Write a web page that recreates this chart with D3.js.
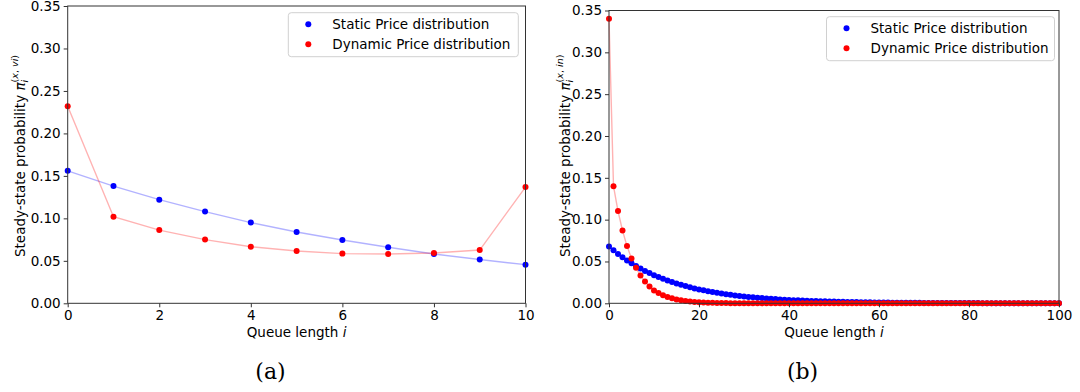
<!DOCTYPE html>
<html>
<head>
<meta charset="utf-8">
<script src="https://cdn.jsdelivr.net/npm/d3@7"></script>
<style>
  body { margin: 0; background: #fff; }
  svg text { font-family: "DejaVu Sans", sans-serif; fill: #000; }
</style>
</head>
<body>
<div id="chart"></div>
<script>
// (a) short queue, i = 0..10
const queueA = [0, 1, 2, 3, 4, 5, 6, 7, 8, 9, 10];
const staticA = [0.156, 0.138, 0.122, 0.108, 0.095, 0.084, 0.0745, 0.066, 0.058, 0.0515, 0.0455];
const dynamicA = [0.232, 0.102, 0.0862, 0.075, 0.0666, 0.0615, 0.0585, 0.058, 0.0592, 0.0627, 0.1368];

// (b) long queue, i = 0..100 (index = queue length)
const staticB = [
  0.0680, 0.06338, 0.05907, 0.05505, 0.05131, 0.04782, 0.04457, 0.04154, 0.03871, 0.03608,
  0.03363, 0.03134, 0.02921, 0.02722, 0.02537, 0.02365, 0.02204, 0.02054, 0.01914, 0.01784,
  0.01663, 0.01550, 0.01444, 0.01346, 0.01255, 0.01169, 0.01090, 0.01016, 0.00947, 0.00882,
  0.00822, 0.00766, 0.00714, 0.00666, 0.00620, 0.00578, 0.00539, 0.00502, 0.00468, 0.00436,
  0.00407, 0.00379, 0.00353, 0.00329, 0.00307, 0.00286, 0.00266, 0.00248, 0.00231, 0.00216,
  0.00201, 0.00187, 0.00175, 0.00163, 0.00152, 0.00141, 0.00132, 0.00123, 0.00114, 0.00107,
  0.00099, 0.00093, 0.00086, 0.00080, 0.00075, 0.00070, 0.00065, 0.00061, 0.00057, 0.00053,
  0.00049, 0.00046, 0.00043, 0.00040, 0.00037, 0.00035, 0.00032, 0.00030, 0.00028, 0.00026,
  0.00024, 0.00023, 0.00021, 0.00020, 0.00018, 0.00017, 0.00016, 0.00015, 0.00014, 0.00013,
  0.00012, 0.00011, 0.00010, 0.00010, 0.00009, 0.00008, 0.00008, 0.00007, 0.00007, 0.00006,
  0.00006
];
const dynamicB = [
  0.340, 0.140, 0.1102, 0.0870, 0.0684, 0.0536, 0.0424, 0.0332, 0.0260, 0.0202,
  0.0154, 0.0122, 0.0095, 0.0075, 0.0059, 0.0046, 0.0036, 0.0028, 0.0022, 0.0017,
  0.0013, 0.0010, 0.0008, 0.0006, 0.0005, 0.0004, 0.0003, 0.0002, 0.0002, 0.0001,
  0.0001, 0.0001, 0.0001, 0.0001, 0, 0, 0, 0, 0, 0,
  0, 0, 0, 0, 0, 0, 0, 0, 0, 0,
  0, 0, 0, 0, 0, 0, 0, 0, 0, 0,
  0, 0, 0, 0, 0, 0, 0, 0, 0, 0,
  0, 0, 0, 0, 0, 0, 0, 0, 0, 0,
  0, 0, 0, 0, 0, 0, 0, 0, 0, 0,
  0, 0, 0, 0, 0, 0, 0, 0, 0, 0,
  0
];

const yTicks = [0, 0.05, 0.10, 0.15, 0.20, 0.25, 0.30, 0.35];
const legendLabels = ["Static Price distribution", "Dynamic Price distribution"];
const seriesColors = ["#0000ff", "#ff0000"];
const lineColors = ["rgba(0,0,255,0.3)", "rgba(255,0,0,0.3)"];

const svg = d3.select("#chart")
  .append("svg")
  .attr("width", 1080)
  .attr("height", 392);

function drawPanel(p) {
  const x = d3.scaleLinear().domain(p.xDomain).range([p.left, p.right]);
  const y = d3.scaleLinear().domain([0, 0.35]).range([p.bottom, p.top]);
  const g = svg.append("g");

  const series = [p.static, p.dynamic].map((vals) =>
    vals.map((v, i) => ({ q: p.queue ? p.queue[i] : i, v: v }))
  );

  const line = d3.line().x((d) => x(d.q)).y((d) => y(d.v));

  // connecting lines sit under the markers
  series.forEach((s, k) => {
    g.append("path")
      .datum(s)
      .attr("fill", "none")
      .attr("stroke", lineColors[k])
      .attr("stroke-width", 1.4)
      .attr("d", line);
  });

  series.forEach((s, k) => {
    g.append("g")
      .selectAll("circle")
      .data(s)
      .join("circle")
      .attr("cx", (d) => x(d.q))
      .attr("cy", (d) => y(d.v))
      .attr("r", 3)
      .attr("fill", seriesColors[k]);
  });

  // axes
  const xAxis = d3.axisBottom(x).tickValues(p.xTicks).tickFormat(d3.format("d"))
    .tickSize(4).tickSizeOuter(0).tickPadding(3);
  const yAxis = d3.axisLeft(y).tickValues(yTicks).tickFormat(d3.format(".2f"))
    .tickSize(4).tickSizeOuter(0).tickPadding(3);

  const gx = g.append("g").attr("transform", `translate(0,${p.bottom})`).call(xAxis);
  const gy = g.append("g").attr("transform", `translate(${p.left},0)`).call(yAxis);
  [gx, gy].forEach((ax) => {
    ax.select(".domain").remove();
    ax.selectAll(".tick line").attr("stroke", "#333");
    ax.selectAll(".tick text")
      .style("font-family", "DejaVu Sans")
      .style("font-size", "13.5px")
      .attr("fill", "#000");
  });

  // frame
  g.append("rect")
    .attr("x", p.left)
    .attr("y", p.top)
    .attr("width", p.right - p.left)
    .attr("height", p.bottom - p.top)
    .attr("fill", "none")
    .attr("stroke", "#333")
    .attr("stroke-width", 1);

  // x label
  const xl = g.append("text")
    .attr("x", (p.left + p.right) / 2)
    .attr("y", 336.5)
    .attr("text-anchor", "middle")
    .style("font-size", "13.5px");
  xl.append("tspan").text("Queue length ");
  xl.append("tspan").style("font-style", "italic").text("i");

  // y label with pi_i^(x, ..)
  const yl = g.append("text")
    .attr("transform", `translate(${p.yLabelX},257) rotate(-90)`)
    .attr("text-anchor", "start")
    .style("font-size", "13.5px");
  yl.append("tspan").text("Steady-state probability ");
  yl.append("tspan").style("font-style", "italic").text("\u03c0");
  yl.append("tspan").style("font-style", "italic").style("font-size", "9.5px")
    .attr("dy", 3).text("i");
  yl.append("tspan").style("font-size", "9.5px").attr("dx", -2.6).attr("dy", -10).text("(");
  yl.append("tspan").style("font-size", "9.5px").style("font-style", "italic").text("x");
  yl.append("tspan").style("font-size", "9.5px").text(", ");
  yl.append("tspan").style("font-size", "9.5px").style("font-style", "italic").text(p.sup);
  yl.append("tspan").style("font-size", "9.5px").text(")");

  // legend
  const lg = g.append("g").attr("transform", `translate(${p.legendX},${p.legendY})`);
  lg.append("rect")
    .attr("width", p.legendW)
    .attr("height", 44)
    .attr("rx", 3)
    .attr("fill", "rgba(255,255,255,0.8)")
    .attr("stroke", "#d0d0d0")
    .attr("stroke-width", 1);
  legendLabels.forEach((label, k) => {
    lg.append("circle")
      .attr("cx", 20)
      .attr("cy", 11.6 + k * 20)
      .attr("r", 3)
      .attr("fill", seriesColors[k]);
    lg.append("text")
      .attr("x", 44)
      .attr("y", 16.2 + k * 20)
      .style("font-size", "13.5px")
      .text(label);
  });

  // caption
  svg.append("text")
    .attr("x", p.captionX)
    .attr("y", 378.5)
    .attr("text-anchor", "middle")
    .style("font-family", "DejaVu Serif, serif")
    .style("font-size", "22px")
    .text(p.caption);
}

drawPanel({
  queue: queueA, static: staticA, dynamic: dynamicA,
  xDomain: [0, 10], xTicks: [0, 2, 4, 6, 8, 10],
  left: 67.7, right: 525.5, top: 6, bottom: 303.3,
  yLabelX: 25, sup: "vi",
  legendX: 288.3, legendY: 12.7, legendW: 230,
  captionX: 270.5, caption: "(a)"
});

drawPanel({
  queue: null, static: staticB, dynamic: dynamicB,
  xDomain: [0, 100], xTicks: [0, 20, 40, 60, 80, 100],
  left: 609, right: 1059, top: 10.5, bottom: 303.3,
  yLabelX: 570, sup: "in",
  legendX: 826.5, legendY: 16.7, legendW: 228,
  captionX: 802.5, caption: "(b)"
});
</script>
</body>
</html>
